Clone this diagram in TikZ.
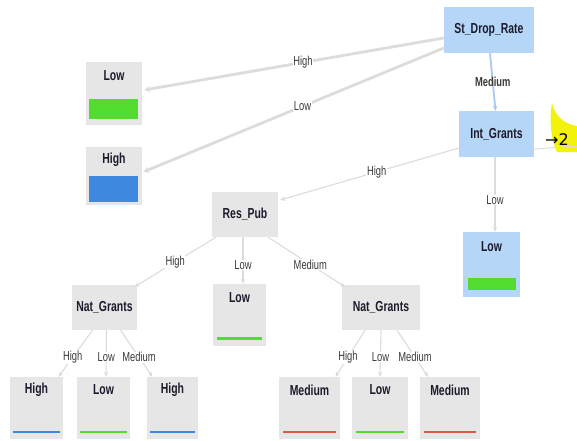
\documentclass[tikz,border=0pt]{standalone}
\usepackage{fontspec}
\setmainfont{Liberation Sans}[FakeStretch=0.72]
\newfontfamily\djv{DejaVu Sans}
\usetikzlibrary{arrows.meta}
\definecolor{boxgray}{HTML}{E6E6E6}
\definecolor{boxblue}{HTML}{B6D6F8}
\definecolor{cgreen}{HTML}{52DC30}
\definecolor{cblue}{HTML}{3F88E0}
\definecolor{cred}{HTML}{D95B43}
\definecolor{edgegray}{HTML}{DCDCDC}
\definecolor{edgeblue}{HTML}{A9C9EF}
\definecolor{txtdark}{HTML}{1B1B2B}
\definecolor{lbl}{HTML}{3A3A3A}
\definecolor{hilite}{HTML}{F2F20A}
\tikzset{
  gbox/.style={draw=none, fill=boxgray, inner sep=0pt},
  bbox/.style={draw=none, fill=boxblue, inner sep=0pt},
  btxt/.style={font=\bfseries\fontsize{14.5}{16}\selectfont, text=txtdark, inner sep=0pt},
  elbl/.style={font=\fontsize{13}{14}\selectfont, text=lbl, fill=white, inner sep=0.6pt},
  thickedge/.style={draw=edgegray, line width=2.8pt, -{Stealth[length=6pt,width=6pt]}},
  thinedge/.style={draw=edgegray, line width=1.1pt, -{Stealth[length=5pt,width=4.5pt]}},
  blueedge/.style={draw=edgeblue, line width=1.8pt, -{Stealth[length=5pt,width=4.5pt]}}
}
\begin{document}
\begin{tikzpicture}[x=1pt,y=-1pt]
\useasboundingbox[fill=white] (0,0) rectangle (577,440);

% yellow annotation
\fill[hilite] (552,103) .. controls (556,118) and (565,124) .. (577,126) -- (577,152) -- (557,152) .. controls (551,140) and (549,120) .. (552,103) -- cycle;

% decision nodes
\node[bbox, minimum width=90, minimum height=46] (sdr) at (489,30) {};
\node[btxt] (sdrt) at (489,30) {St\_Drop\_Rate};
\node[bbox, minimum width=75, minimum height=46] (ig) at (496.5,134) {};
\node[btxt] (igt) at (496.5,134) {Int\_Grants};
\node[gbox, minimum width=66, minimum height=45] (rp) at (245,214.5) {};
\node[btxt] (rpt) at (245,214.5) {Res\_Pub};
\node[gbox, minimum width=65, minimum height=45] (ngL) at (104.5,307.5) {};
\node[btxt] (ngLt) at (104.5,307.5) {Nat\_Grants};
\node[gbox, minimum width=78, minimum height=45] (ngR) at (381,307.5) {};
\node[btxt] (ngRt) at (381,307.5) {Nat\_Grants};

% leaves top-left
\node[gbox, minimum width=56, minimum height=63] (lowTL) at (114,93.5) {};
\node[btxt] (lowTLt) at (114,76) {Low};
\fill[cgreen] (89,99) rectangle (138,119);
\node[gbox, minimum width=56, minimum height=58] (highTL) at (114,176) {};
\node[btxt] (highTLt) at (114,160) {High};
\fill[cblue] (89,176) rectangle (138,202);

% leaf under Int_Grants
\node[bbox, minimum width=57, minimum height=65] (lowIG) at (491.5,264.5) {};
\node[btxt] (lowIGt) at (491.5,247) {Low};
\fill[cgreen] (468,278) rectangle (516,290);

% leaf under Res_Pub
\node[gbox, minimum width=53, minimum height=62] (lowMid) at (239.5,315) {};
\node[btxt] (lowMidt) at (239.5,298) {Low};
\fill[cgreen] (217,336.5) rectangle (262,339.5);

% bottom leaves
\node[gbox, minimum width=53, minimum height=62] (b1) at (36.5,408) {};
\node[btxt] (b1t) at (36.5,390) {High};
\fill[cblue] (13,431) rectangle (60,433);
\node[gbox, minimum width=53, minimum height=62] (b2) at (103.5,408) {};
\node[btxt] (b2t) at (103.5,390) {Low};
\fill[cgreen] (80,431) rectangle (127,433);
\node[gbox, minimum width=51, minimum height=62] (b3) at (172.5,408) {};
\node[btxt] (b3t) at (172.5,390) {High};
\fill[cblue] (150,431) rectangle (195,433);
\node[gbox, minimum width=61, minimum height=62] (b4) at (309.5,408) {};
\node[btxt] (b4t) at (309.5,390) {Medium};
\fill[cred] (283,431) rectangle (336,433);
\node[gbox, minimum width=56, minimum height=62] (b5) at (380,408) {};
\node[btxt] (b5t) at (380,390) {Low};
\fill[cgreen] (356,431) rectangle (404,433);
\node[gbox, minimum width=60, minimum height=62] (b6) at (450,408) {};
\node[btxt] (b6t) at (450,390) {Medium};
\fill[cred] (424,431) rectangle (476,433);

% edges
\draw[thickedge] ([yshift=-8pt]sdr.west) -- node[elbl, pos=0.47] (e1) {High} ([yshift=3.5pt,xshift=2pt]lowTL.east);
\draw[thickedge] ([yshift=-18pt]sdr.west) -- node[elbl, pos=0.47] (e2) {Low} ([yshift=4pt,xshift=1pt]highTL.east);
\draw[blueedge] ([xshift=1pt]sdr.south) -- node[elbl, fill=none, font=\bfseries\fontsize{13}{14}\selectfont, pos=0.5] (e3) {Medium} ([xshift=-1pt]ig.north);
\draw[thinedge] ([yshift=-14pt]ig.west) -- node[elbl, pos=0.46] (e4) {High} ([yshift=14.5pt,xshift=2pt]rp.east);
\draw[edgegray, line width=1pt] ([yshift=-15pt]ig.east) -- (577,146);
\draw[thinedge] ([xshift=-1.5pt]ig.south) -- node[elbl, pos=0.57] (e5) {Low} ([xshift=3.5pt]lowIG.north);
\draw[thinedge] ([xshift=-29pt]rp.south) -- node[elbl, pos=0.5] (e6) {High} ([xshift=30pt,yshift=-2pt]ngL.north);
\draw[thinedge] ([xshift=-2pt]rp.south) -- node[elbl, pos=0.6] (e7) {Low} ([xshift=3.5pt]lowMid.north);
\draw[thinedge] ([xshift=23pt]rp.south) -- node[elbl, pos=0.55] (e8) {Medium} ([xshift=-36pt,yshift=-2pt]ngR.north);
\draw[thinedge] ([xshift=-12pt]ngL.south) -- node[elbl, pos=0.58] (e9) {High} ([xshift=22pt]b1.north);
\draw[thinedge] ([xshift=2pt]ngL.south) -- node[elbl, pos=0.58] (e10) {Low} ([xshift=2.5pt]b2.north);
\draw[thinedge] ([xshift=16pt]ngL.south) -- node[elbl, pos=0.58] (e11) {Medium} ([xshift=-20pt]b3.north);
\draw[thinedge] ([xshift=-16pt]ngR.south) -- node[elbl, pos=0.58] (e12) {High} ([xshift=26pt]b4.north);
\draw[thinedge] (ngR.south) -- node[elbl, pos=0.58] (e13) {Low} (b5.north);
\draw[thinedge] ([xshift=16pt]ngR.south) -- node[elbl, pos=0.58] (e14) {Medium} ([xshift=-22pt]b6.north);

% annotation text
\node[font=\djv\fontsize{16}{17}\selectfont, text=black, anchor=west, inner sep=0pt] (anno) at (545,140) {→2};
\end{tikzpicture}
\end{document}
